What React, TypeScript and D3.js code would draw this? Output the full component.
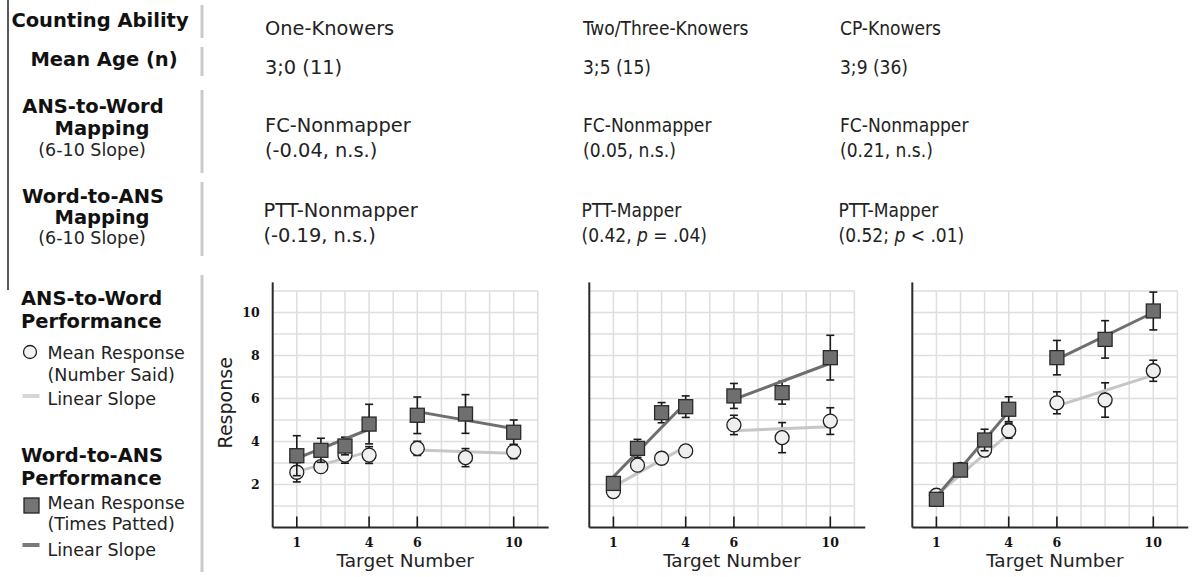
import React from "react";
import * as d3 from "d3";

// ---- data ----
const targets = [1, 2, 3, 4, 6, 8, 10];
const tickTargets = [1, 4, 6, 10];
const yTicks = [2, 4, 6, 8, 10];

const groupNames = ["One-Knowers", "Two/Three-Knowers", "CP-Knowers"];
const meanAges = ["3;0 (11)", "3;5 (15)", "3;9 (36)"];
const fcLabels = ["FC-Nonmapper", "FC-Nonmapper", "FC-Nonmapper"];
const fcStats = ["(-0.04, n.s.)", "(0.05, n.s.)", "(0.21, n.s.)"];
const pttLabels = ["PTT-Nonmapper", "PTT-Mapper", "PTT-Mapper"];
const pttValues = ["(-0.19, n.s.)", "(0.42, ", "(0.52; "];
const pttP = ["", "p", "p"];
const pttRest = ["", " = .04)", " < .01)"];

// Word-to-ANS (times patted) – squares
const patted = [
  [3.34, 3.59, 3.79, 4.81, 5.22, 5.28, 4.43],
  [2.05, 3.68, 5.34, 5.62, 6.12, 6.27, 7.9],
  [1.31, 2.67, 4.07, 5.5, 7.9, 8.75, 10.07],
];
const pattedErr = [
  [0.93, 0.56, 0.41, 0.92, 0.85, 0.9, 0.57],
  [0.25, 0.42, 0.47, 0.5, 0.58, 0.53, 1.04],
  [0.15, 0.2, 0.5, 0.58, 0.8, 0.87, 0.88],
];
// ANS-to-Word (number said) – circles
const said = [
  [2.57, 2.83, 3.37, 3.37, 3.68, 3.25, 3.53],
  [1.67, 2.9, 3.22, 3.56, 4.77, 4.18, 4.95],
  [1.5, 2.7, 3.6, 4.5, 5.8, 5.93, 7.29],
];
const saidErr = [
  [0.45, 0.2, 0.38, 0.39, 0.33, 0.42, 0.33],
  [0.25, 0.25, 0.2, 0.2, 0.45, 0.7, 0.62],
  [0.15, 0.2, 0.3, 0.35, 0.51, 0.8, 0.49],
];
// linear slope segments: [value at start, value at end] for 1-4 and 6-10
const slopeRanges = [[1, 4], [6, 10]];
const pattedSlopes = [
  [[3.22, 4.57], [5.39, 4.6]],
  [[2.36, 5.8], [5.96, 7.64]],
  [[1.43, 5.39], [7.82, 10.0]],
];
const saidSlopes = [
  [[2.6, 3.53], [3.6, 3.45]],
  [[1.9, 3.76], [4.5, 4.69]],
  [[1.51, 4.35], [5.65, 7.09]],
];

// ---- layout ----
const W = 1192;
const H = 577;
const sans = "'DejaVu Sans', Verdana, sans-serif";
const condensed = "'DejaVu Sans Condensed', 'DejaVu Sans', sans-serif";
const serif = "'DejaVu Serif', serif";
const panelLeft = [272.7, 589.3, 912.3];
const xLabelShift = [0, 10, 10];
const unit = 24.1;
const yBottom = 527.5;
const yTop = 291;
const colX = [265, 583, 840];
const rowY = [35, 74, 132, 157, 217, 242];

const DARK = "#6e6e6e";
const LIGHT = "#c6c6c6";
const GRID = "#dedede";
const SEP = "#cbcbcb";

function ErrorBar({ x, y0, y1 }: { x: number; y0: number; y1: number }) {
  return (
    <g stroke="#1a1a1a" strokeWidth={1.6}>
      <line x1={x} x2={x} y1={y0} y2={y1} />
      <line x1={x - 4} x2={x + 4} y1={y0} y2={y0} />
      <line x1={x - 4} x2={x + 4} y1={y1} y2={y1} />
    </g>
  );
}

function Panel({ i }: { i: number }) {
  const x = d3.scaleLinear().domain([0, 11]).range([panelLeft[i], panelLeft[i] + 11 * unit]);
  const y = d3.scaleLinear().domain([0, 11]).range([yBottom, yTop]);
  const line = d3.line<[number, number]>().x((d) => x(d[0])).y((d) => y(d[1]));
  const gridVals = d3.range(1, 12);

  const segs = (vals: number[][]) =>
    vals.map((v, k) => [
      [slopeRanges[k][0], v[0]],
      [slopeRanges[k][1], v[1]],
    ] as [number, number][]);

  return (
    <g>
      {/* grid */}
      {gridVals.map((g) => (
        <line key={"v" + g} x1={x(g)} x2={x(g)} y1={y(0)} y2={y(11)} stroke={GRID} strokeWidth={1.5} />
      ))}
      {gridVals.map((g) => (
        <line key={"h" + g} x1={x(0)} x2={x(11)} y1={y(g)} y2={y(g)} stroke={GRID} strokeWidth={1.5} />
      ))}
      {/* axes */}
      <line x1={x(0)} x2={x(0)} y1={y(0)} y2={y(11.4)} stroke="#2a2a2a" strokeWidth={2} />
      <line x1={x(0)} x2={x(11.45)} y1={y(0)} y2={y(0)} stroke="#2a2a2a" strokeWidth={2} />
      {tickTargets.map((t) => (
        <g key={t}>
          <line x1={x(t)} x2={x(t)} y1={y(0)} y2={y(0) - 11} stroke="#1a1a1a" strokeWidth={1.6} />
          <text x={x(t)} y={y(0) + 19} textAnchor="middle" fontFamily={serif} fontWeight="bold" fontSize={12.5} fill="#111">
            {t}
          </text>
        </g>
      ))}
      {i === 0 &&
        yTicks.map((t) => (
          <text key={t} x={x(0) - 13} y={y(t)} dy="0.36em" textAnchor="end" fontFamily={serif} fontWeight="bold" fontSize={12.5} fill="#111">
            {t}
          </text>
        ))}
      {i === 0 && (
        <text transform={`translate(232, ${y(5.8)}) rotate(-90)`} textAnchor="middle" fontFamily={sans} fontSize={19} fill="#222">
          Response
        </text>
      )}
      <text x={x(5.5) + xLabelShift[i]} y={567} textAnchor="middle" fontFamily={sans} fontSize={18.5} fill="#222">
        Target Number
      </text>

      {/* number said: error bars, slope, circles */}
      {targets.map((t, k) => (
        <ErrorBar key={"ce" + t} x={x(t)} y0={y(said[i][k] + saidErr[i][k])} y1={y(said[i][k] - saidErr[i][k])} />
      ))}
      {segs(saidSlopes[i]).map((s, k) => (
        <path key={"cl" + k} d={line(s) || ""} stroke={LIGHT} strokeWidth={3} fill="none" />
      ))}
      {targets.map((t, k) => (
        <circle key={"c" + t} cx={x(t)} cy={y(said[i][k])} r={7} fill="#efefef" stroke="#1f1f1f" strokeWidth={1.3} />
      ))}

      {/* times patted: error bars, slope, squares */}
      {targets.map((t, k) => (
        <ErrorBar key={"se" + t} x={x(t)} y0={y(patted[i][k] + pattedErr[i][k])} y1={y(patted[i][k] - pattedErr[i][k])} />
      ))}
      {segs(pattedSlopes[i]).map((s, k) => (
        <path key={"sl" + k} d={line(s) || ""} stroke={DARK} strokeWidth={3} fill="none" />
      ))}
      {targets.map((t, k) => (
        <rect key={"s" + t} x={x(t) - 7} y={y(patted[i][k]) - 7} width={14} height={14} fill="#6f6f6f" stroke="#2a2a2a" strokeWidth={1.3} />
      ))}
    </g>
  );
}

export default function App() {
  const bold = { fontFamily: sans, fontWeight: 700, fontSize: 19.5, fill: "#111" } as const;
  const reg = { fontFamily: sans, fontSize: 17.5, fill: "#222" } as const;
  const leftRows: [string, number, number, boolean][] = [
    ["Counting Ability", 100, 27, true],
    ["Mean Age (n)", 104, 66, true],
    ["ANS-to-Word", 93, 113, true],
    ["Mapping", 102, 135, true],
    ["(6-10 Slope)", 92, 156, false],
    ["Word-to-ANS", 93, 203, true],
    ["Mapping", 102, 224, true],
    ["(6-10 Slope)", 92, 244, false],
  ];
  const seps: [number, number][] = [
    [5, 38],
    [47, 76],
    [90, 173],
    [182, 256],
    [275, 572],
  ];
  const colFont = (c: number) =>
    c === 0
      ? { fontFamily: sans, fontSize: 19.4, fill: "#222" }
      : { fontFamily: condensed, fontStretch: "condensed", fontSize: 19, fill: "#222" };

  return (
    <div style={{ position: "fixed", left: 0, top: 0 }}>
      <svg width={W} height={H} style={{ display: "block", background: "#fff" }}>
        <rect width={W} height={H} fill="#fff" />
        {/* left border line */}
        <line x1={8} x2={8} y1={0} y2={290} stroke="#222" strokeWidth={1.5} />
        {seps.map(([a, b], k) => (
          <line key={k} x1={202} x2={202} y1={a} y2={b} stroke={SEP} strokeWidth={3} />
        ))}

        {/* row headers */}
        {leftRows.map(([t, cx, by, b], k) => (
          <text key={k} x={cx} y={by} textAnchor="middle" {...(b ? bold : { ...reg, fontSize: 17.5 })}>
            {t}
          </text>
        ))}

        {/* group columns */}
        {groupNames.map((g, c) => {
          const f = colFont(c);
          return (
            <g key={g} {...f}>
              <text x={colX[c]} y={rowY[0]}>{g}</text>
              <text x={colX[c]} y={rowY[1]}>{meanAges[c]}</text>
              <text x={colX[c]} y={rowY[2]}>{fcLabels[c]}</text>
              <text x={colX[c]} y={rowY[3]}>{fcStats[c]}</text>
              <text x={colX[c] - 1.5} y={rowY[4]}>{pttLabels[c]}</text>
              <text x={colX[c] - 1.5} y={rowY[5]}>
                {pttValues[c]}
                {pttP[c] && <tspan fontStyle="italic">{pttP[c]}</tspan>}
                {pttRest[c]}
              </text>
            </g>
          );
        })}

        {/* legend */}
        <g>
          <text x={21} y={305} {...bold}>ANS-to-Word</text>
          <text x={21} y={328} {...bold}>Performance</text>
          <circle cx={30} cy={352} r={6.5} fill="#f2f2f2" stroke="#222" strokeWidth={1.3} />
          <text x={47.5} y={359} {...reg}>Mean Response</text>
          <text x={47.5} y={381} {...reg}>(Number Said)</text>
          <line x1={22.5} x2={39.5} y1={396} y2={396} stroke="#d6d6d6" strokeWidth={4} />
          <text x={47.5} y={405} {...reg}>Linear Slope</text>

          <text x={21} y={462} {...bold}>Word-to-ANS</text>
          <text x={21} y={485} {...bold}>Performance</text>
          <rect x={24} y={498} width={15} height={15} fill="#757575" stroke="#222" strokeWidth={1.3} />
          <text x={47.5} y={509} {...reg}>Mean Response</text>
          <text x={47.5} y={530} {...reg}>(Times Patted)</text>
          <line x1={22.5} x2={39.5} y1={545} y2={545} stroke="#7a7a7a" strokeWidth={4} />
          <text x={47.5} y={556} {...reg}>Linear Slope</text>
        </g>

        {[0, 1, 2].map((i) => (
          <Panel key={i} i={i} />
        ))}
      </svg>
    </div>
  );
}
